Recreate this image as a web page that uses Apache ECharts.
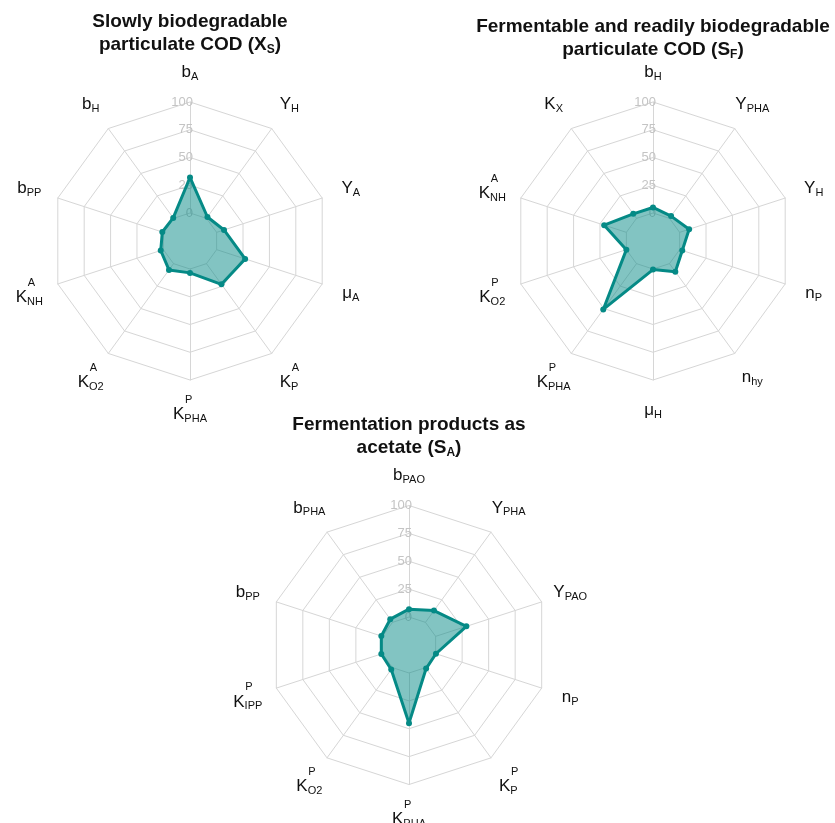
<!DOCTYPE html>
<html>
<head>
<meta charset="utf-8">
<script src="https://cdn.jsdelivr.net/npm/echarts@6/dist/echarts.min.js"></script>
<style>
  html, body { margin: 0; padding: 0; background: #fff; }
  #chart { width: 835px; height: 823px; }
</style>
</head>
<body>
<div id="chart"></div>
<script>
// indicator names, clockwise from the top: [main, subscript, superscript]
const namesXs = [['b', 'A'], ['Y', 'H'], ['Y', 'A'], ['μ', 'A'], ['K', 'P', 'A'],
  ['K', 'PHA', 'P'], ['K', 'O2', 'A'], ['K', 'NH', 'A'], ['b', 'PP'], ['b', 'H']];
const valuesXs = [32, 1.5, 7, 27, 23, 3.5, 7, 2.5, 1, 0.5];

const namesSf = [['b', 'H'], ['Y', 'PHA'], ['Y', 'H'], ['n', 'P'], ['n', 'hy'],
  ['μ', 'H'], ['K', 'PHA', 'P'], ['K', 'O2', 'P'], ['K', 'NH', 'A'], ['K', 'X']];
const valuesSf = [5, 2.5, 9, 2.5, 9, 0.5, 51, 0, 21, 5];

const namesSa = [['b', 'PAO'], ['Y', 'PHA'], ['Y', 'PAO'], ['n', 'P'], ['K', 'P', 'P'],
  ['K', 'PHA', 'P'], ['K', 'O2', 'P'], ['K', 'IPP', 'P'], ['b', 'PP'], ['b', 'PHA']];
const valuesSa = [7, 13, 29, 0.3, 1, 45, 2, 1, 1, 3.5];

const tickLabels = [0, 25, 50, 75, 100];

const titles = [
  'Slowly biodegradable\nparticulate COD (X{s|S})',
  'Fermentable and readily biodegradable\nparticulate COD (S{s|F})',
  'Fermentation products as\nacetate (S{s|A})'
];

const FONT = '"Liberation Sans", Arial, sans-serif';
const TEAL = '#058a86';
const GRID = '#d6d6d6';

// echarts lays indicators out counter-clockwise, the figure reads clockwise
const ccw = arr => [arr[0]].concat(arr.slice(1).reverse());

const fmtName = n => {
  const base = '{m|' + n[0] + '}{s|' + n[1] + '}';
  return n[2] ? '{sup|' + n[2] + '}\n' + base : base;
};

const buildIndicator = names => ccw(names).map((n, i) => {
  const ind = { name: fmtName(n), min: 0, max: 100 };
  if (i === 0) {
    ind.axisLabel = {
      show: true,
      color: '#c4c4c4',
      fontSize: 13,
      fontFamily: FONT,
      margin: -3,
      formatter: v => (tickLabels.indexOf(v) >= 0 ? String(v) : '')
    };
  }
  return ind;
});

const radarBase = (center, names) => ({
  center: center,
  radius: [28, 139],
  startAngle: 90,
  splitNumber: 4,
  shape: 'polygon',
  indicator: buildIndicator(names),
  nameGap: 30,
  axisName: {
    color: '#111',
    fontFamily: FONT,
    align: 'center',
    verticalAlign: 'middle',
    rich: {
      m: { fontSize: 17, fontFamily: FONT, color: '#111', align: 'left', lineHeight: 20 },
      s: { fontSize: 11, fontFamily: FONT, color: '#111', align: 'left', verticalAlign: 'bottom', lineHeight: 12 },
      sup: { fontSize: 11, fontFamily: FONT, color: '#111', align: 'left', lineHeight: 9, padding: [0, 0, 0, 12] }
    }
  },
  axisLine: { lineStyle: { color: GRID, width: 1 } },
  splitLine: { lineStyle: { color: GRID, width: 1 } },
  splitArea: { show: false },
  axisTick: { show: false },
  axisLabel: { show: false }
});

const seriesFor = (idx, values) => ({
  type: 'radar',
  radarIndex: idx,
  symbol: 'circle',
  symbolSize: 6,
  lineStyle: { color: TEAL, width: 3 },
  itemStyle: { color: TEAL },
  areaStyle: { color: TEAL, opacity: 0.5 },
  data: [{ value: ccw(values) }]
});

const titleFor = (text, x, y) => ({
  text: text,
  left: x,
  top: y,
  padding: 0,
  textAlign: 'center',
  textStyle: {
    fontSize: 19,
    fontWeight: 'bold',
    fontFamily: FONT,
    color: '#111',
    lineHeight: 23,
    rich: {
      s: { fontSize: 12, fontWeight: 'bold', fontFamily: FONT, color: '#111', verticalAlign: 'bottom', lineHeight: 20 }
    }
  }
});

const chart = echarts.init(document.getElementById('chart'), null, { renderer: 'canvas' });
chart.setOption({
  animation: false,
  backgroundColor: '#fff',
  title: [
    titleFor(titles[0], 190, 10),
    titleFor(titles[1], 653, 15),
    titleFor(titles[2], 409, 413)
  ],
  radar: [
    radarBase([190, 241], namesXs),
    radarBase([653, 241], namesSf),
    Object.assign(radarBase([409, 645], namesSa), { radius: [28, 139.5] })
  ],
  series: [
    seriesFor(0, valuesXs),
    seriesFor(1, valuesSf),
    seriesFor(2, valuesSa)
  ]
});
</script>
</body>
</html>
